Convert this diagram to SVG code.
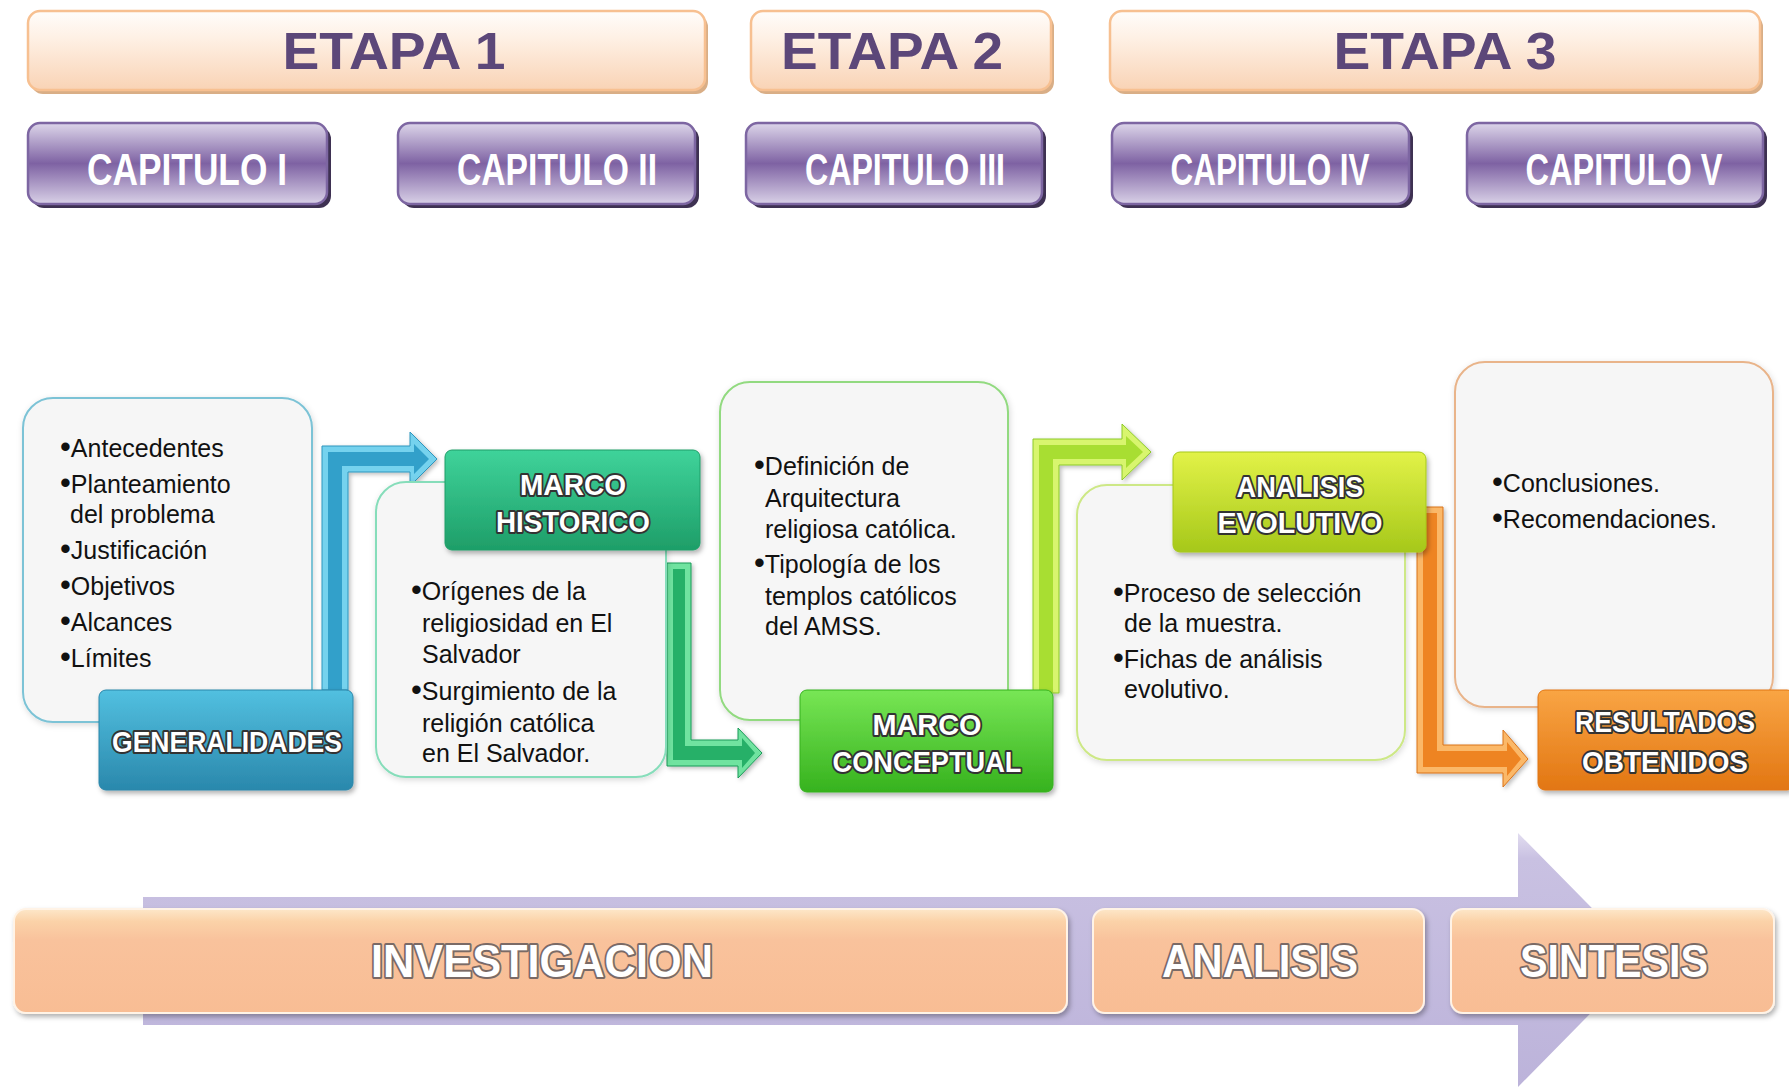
<svg xmlns="http://www.w3.org/2000/svg" width="1789" height="1087" viewBox="0 0 1789 1087">
<defs>
<linearGradient id="gEtapa" x1="0" y1="0" x2="0" y2="1"><stop offset="0" stop-color="#FFFDFB"/><stop offset="0.35" stop-color="#FEF0E4"/><stop offset="1" stop-color="#F9D3B5"/></linearGradient>
<linearGradient id="gCap" x1="0" y1="0" x2="0" y2="1"><stop offset="0" stop-color="#DDD6EA"/><stop offset="0.5" stop-color="#7E62A3"/><stop offset="1" stop-color="#D9D1E7"/></linearGradient>
<linearGradient id="gBand" x1="0" y1="0" x2="0" y2="1"><stop offset="0" stop-color="#FDE7C9"/><stop offset="0.12" stop-color="#FBD2A8"/><stop offset="0.3" stop-color="#F9C29C"/><stop offset="1" stop-color="#F8BD94"/></linearGradient>
<linearGradient id="gLav" x1="0" y1="0" x2="0" y2="1"><stop offset="0" stop-color="#E2DDF0"/><stop offset="0.1" stop-color="#C9C1E2"/><stop offset="1" stop-color="#BCB3DA"/></linearGradient>
<linearGradient id="gBlue" x1="0" y1="0" x2="0" y2="1"><stop offset="0" stop-color="#52C0E0"/><stop offset="1" stop-color="#2A88AC"/></linearGradient>
<linearGradient id="gTeal" x1="0" y1="0" x2="0" y2="1"><stop offset="0" stop-color="#3FD39A"/><stop offset="1" stop-color="#1E9E68"/></linearGradient>
<linearGradient id="gGreen" x1="0" y1="0" x2="0" y2="1"><stop offset="0" stop-color="#78E655"/><stop offset="1" stop-color="#36B21E"/></linearGradient>
<linearGradient id="gLime" x1="0" y1="0" x2="0" y2="1"><stop offset="0" stop-color="#E2F248"/><stop offset="1" stop-color="#A6C81A"/></linearGradient>
<linearGradient id="gOrange" x1="0" y1="0" x2="0" y2="1"><stop offset="0" stop-color="#F9A544"/><stop offset="1" stop-color="#E27612"/></linearGradient>
<filter id="sh" x="-10%" y="-10%" width="125%" height="130%"><feDropShadow dx="2" dy="3" stdDeviation="2.5" flood-color="#000" flood-opacity="0.3"/></filter>
<filter id="shSoft" x="-10%" y="-10%" width="125%" height="125%"><feDropShadow dx="1" dy="2" stdDeviation="3" flood-color="#000" flood-opacity="0.15"/></filter>
<filter id="shArr" x="-10%" y="-10%" width="130%" height="130%"><feDropShadow dx="2" dy="2" stdDeviation="2" flood-color="#000" flood-opacity="0.25"/></filter>
</defs>
<style>
.etapa{fill:url(#gEtapa);stroke:#F7C091;stroke-width:2.5}
.etapaSh{fill:#D9AE86}
.etT{font-family:"Liberation Sans",Arial,sans-serif;font-weight:bold;font-size:52px;fill:#5C4779;text-anchor:middle}
.cap{fill:url(#gCap);stroke:#7D66A2;stroke-width:2.5}
.capSh{fill:#3E3152}
.capT{font-family:"Liberation Sans",Arial,sans-serif;font-weight:bold;font-size:44px;fill:#FFFFFF;text-anchor:middle}
.box{fill:#F6F6F6;stroke-width:2;filter:url(#shSoft)}
.bt{font-family:"Liberation Sans",Arial,sans-serif;font-size:25px;fill:#111}
.b{font-size:31px}
.lab{stroke-width:1;filter:url(#sh)}
.labT{font-family:"Liberation Sans",Arial,sans-serif;font-weight:bold;font-size:30px;fill:#FFFFFF;text-anchor:middle;stroke:#333333;stroke-width:4;stroke-linejoin:round;paint-order:stroke}
.band{fill:url(#gBand);stroke:#FFF3E6;stroke-width:2;filter:url(#sh)}
.bandT{font-family:"Liberation Sans",Arial,sans-serif;font-weight:bold;font-size:47px;fill:#FFFFFF;text-anchor:middle;stroke:#7A6A66;stroke-width:4;stroke-linejoin:round;paint-order:stroke}
.arr{filter:url(#shArr)}
</style>

<g id="etapa1"><rect class="etapaSh" x="31" y="15" width="677" height="79" rx="12"/><rect class="etapa" x="28" y="11" width="677" height="79" rx="12"/><text class="etT" x="394" y="69" textLength="223" lengthAdjust="spacingAndGlyphs">ETAPA 1</text></g>
<g id="etapa2"><rect class="etapaSh" x="754" y="15" width="300" height="79" rx="12"/><rect class="etapa" x="751" y="11" width="300" height="79" rx="12"/><text class="etT" x="892" y="69" textLength="222" lengthAdjust="spacingAndGlyphs">ETAPA 2</text></g>
<g id="etapa3"><rect class="etapaSh" x="1113" y="15" width="650" height="79" rx="12"/><rect class="etapa" x="1110" y="11" width="650" height="79" rx="12"/><text class="etT" x="1445" y="69" textLength="223" lengthAdjust="spacingAndGlyphs">ETAPA 3</text></g>

<g id="cap1"><rect class="capSh" x="32" y="127" width="299" height="81" rx="12"/><rect class="cap" x="28" y="123" width="299" height="81" rx="12"/><text class="capT" x="187" y="185" textLength="200" lengthAdjust="spacingAndGlyphs">CAPITULO I</text></g>
<g id="cap2"><rect class="capSh" x="402" y="127" width="297" height="81" rx="12"/><rect class="cap" x="398" y="123" width="297" height="81" rx="12"/><text class="capT" x="557" y="185" textLength="200" lengthAdjust="spacingAndGlyphs">CAPITULO II</text></g>
<g id="cap3"><rect class="capSh" x="750" y="127" width="296" height="81" rx="12"/><rect class="cap" x="746" y="123" width="296" height="81" rx="12"/><text class="capT" x="905" y="185" textLength="200" lengthAdjust="spacingAndGlyphs">CAPITULO III</text></g>
<g id="cap4"><rect class="capSh" x="1116" y="127" width="297" height="81" rx="12"/><rect class="cap" x="1112" y="123" width="297" height="81" rx="12"/><text class="capT" x="1270" y="185" textLength="199" lengthAdjust="spacingAndGlyphs">CAPITULO IV</text></g>
<g id="cap5"><rect class="capSh" x="1471" y="127" width="296" height="81" rx="12"/><rect class="cap" x="1467" y="123" width="296" height="81" rx="12"/><text class="capT" x="1624" y="185" textLength="197" lengthAdjust="spacingAndGlyphs">CAPITULO V</text></g>

<g id="connectors">
<g class="arr"><polygon points="322,690 322,446 410,446 410,432 437,459 410,486 410,472 348,472 348,690" fill="#74D2EE" stroke="#2E95BD" stroke-width="1"/>
<polygon points="328,690 328,452 414,452 414,444 429,459 414,474 414,466 342,466 342,690" fill="#33A0CA"/></g>
<g class="arr"><polygon points="667,563 691,563 691,740 738,740 738,728 762,753 738,778 738,766 667,766" fill="#6FE3A0" stroke="#1B9A58" stroke-width="1"/>
<polygon points="673,569 685,569 685,746 742,746 742,738 755,753 742,768 742,760 673,760" fill="#25B068"/></g>
<g class="arr"><polygon points="1033,693 1033,439 1122,439 1122,424 1151,452 1122,480 1122,465 1059,465 1059,693" fill="#D8F56E" stroke="#8CC928" stroke-width="1"/>
<polygon points="1039,693 1039,445 1126,445 1126,436 1143,452 1126,468 1126,459 1053,459 1053,693" fill="#A8DE33"/></g>
<g class="arr"><polygon points="1417,507 1443,507 1443,745 1503,745 1503,730 1528,759 1503,787 1503,773 1417,773" fill="#FBB868" stroke="#D9731A" stroke-width="1"/>
<polygon points="1423,513 1437,513 1437,751 1507,751 1507,742 1521,759 1507,776 1507,767 1423,767" fill="#EE8424"/></g>
</g>

<g id="box1"><rect class="box" x="23" y="398" width="289" height="324" rx="30" stroke="#7CC3D6"/>
<text class="bt" x="60" y="457"><tspan class="b">•</tspan>Antecedentes</text>
<text class="bt" x="60" y="493"><tspan class="b">•</tspan>Planteamiento</text>
<text class="bt" x="70" y="523">del problema</text>
<text class="bt" x="60" y="559"><tspan class="b">•</tspan>Justificación</text>
<text class="bt" x="60" y="595"><tspan class="b">•</tspan>Objetivos</text>
<text class="bt" x="60" y="631"><tspan class="b">•</tspan>Alcances</text>
<text class="bt" x="60" y="667"><tspan class="b">•</tspan>Límites</text></g>

<g id="box2"><rect class="box" x="376" y="482" width="290" height="295" rx="30" stroke="#86DDBA"/>
<text class="bt" x="411" y="600"><tspan class="b">•</tspan>Orígenes de la</text>
<text class="bt" x="422" y="632">religiosidad en El</text>
<text class="bt" x="422" y="663">Salvador</text>
<text class="bt" x="411" y="700"><tspan class="b">•</tspan>Surgimiento de la</text>
<text class="bt" x="422" y="732">religión católica</text>
<text class="bt" x="422" y="762">en El Salvador.</text></g>

<g id="box3"><rect class="box" x="720" y="382" width="288" height="338" rx="30" stroke="#92DA80"/>
<text class="bt" x="754" y="475"><tspan class="b">•</tspan>Definición de</text>
<text class="bt" x="765" y="507">Arquitectura</text>
<text class="bt" x="765" y="538">religiosa católica.</text>
<text class="bt" x="754" y="573"><tspan class="b">•</tspan>Tipología de los</text>
<text class="bt" x="765" y="605">templos católicos</text>
<text class="bt" x="765" y="635">del AMSS.</text></g>

<g id="box4"><rect class="box" x="1077" y="485" width="328" height="275" rx="30" stroke="#CDE886"/>
<text class="bt" x="1113" y="602"><tspan class="b">•</tspan>Proceso de selección</text>
<text class="bt" x="1124" y="632">de la muestra.</text>
<text class="bt" x="1113" y="668"><tspan class="b">•</tspan>Fichas de análisis</text>
<text class="bt" x="1124" y="698">evolutivo.</text></g>

<g id="box5"><rect class="box" x="1455" y="362" width="318" height="345" rx="30" stroke="#E9B48A"/>
<text class="bt" x="1492" y="492"><tspan class="b">•</tspan>Conclusiones.</text>
<text class="bt" x="1492" y="528"><tspan class="b">•</tspan>Recomendaciones.</text></g>

<g id="generalidades"><rect class="lab" x="99" y="690" width="254" height="100" rx="7" fill="url(#gBlue)" stroke="#2A86AA"/><text class="labT" x="227" y="752" textLength="230" lengthAdjust="spacingAndGlyphs">GENERALIDADES</text></g>
<g id="marcoHistorico"><rect class="lab" x="445" y="450" width="255" height="100" rx="7" fill="url(#gTeal)" stroke="#1E9E68"/><text class="labT" x="573" y="495" textLength="106" lengthAdjust="spacingAndGlyphs">MARCO</text><text class="labT" x="573" y="532" textLength="154" lengthAdjust="spacingAndGlyphs">HISTORICO</text></g>
<g id="marcoConceptual"><rect class="lab" x="800" y="690" width="253" height="102" rx="7" fill="url(#gGreen)" stroke="#36B21E"/><text class="labT" x="927" y="735" textLength="109" lengthAdjust="spacingAndGlyphs">MARCO</text><text class="labT" x="927" y="772" textLength="189" lengthAdjust="spacingAndGlyphs">CONCEPTUAL</text></g>
<g id="analisisEvolutivo"><rect class="lab" x="1173" y="452" width="253" height="100" rx="7" fill="url(#gLime)" stroke="#A6C81A"/><text class="labT" x="1300" y="497" textLength="127" lengthAdjust="spacingAndGlyphs">ANALISIS</text><text class="labT" x="1300" y="533" textLength="165" lengthAdjust="spacingAndGlyphs">EVOLUTIVO</text></g>
<g id="resultadosObtenidos"><rect class="lab" x="1538" y="690" width="256" height="100" rx="7" fill="url(#gOrange)" stroke="#E27612"/><text class="labT" x="1665" y="732" textLength="180" lengthAdjust="spacingAndGlyphs">RESULTADOS</text><text class="labT" x="1665" y="772" textLength="166" lengthAdjust="spacingAndGlyphs">OBTENIDOS</text></g>

<g id="timelineArrow"><polygon points="143,897 1518,897 1518,833 1643,960 1518,1087 1518,1025 143,1025" fill="url(#gLav)"/></g>
<g id="investigacion"><rect class="band" x="14" y="909" width="1053" height="104" rx="12"/><text class="bandT" x="542" y="977" textLength="342" lengthAdjust="spacingAndGlyphs">INVESTIGACION</text></g>
<g id="analisis"><rect class="band" x="1093" y="909" width="331" height="104" rx="12"/><text class="bandT" x="1260" y="977" textLength="196" lengthAdjust="spacingAndGlyphs">ANALISIS</text></g>
<g id="sintesis"><rect class="band" x="1451" y="909" width="323" height="104" rx="12"/><text class="bandT" x="1614" y="977" textLength="188" lengthAdjust="spacingAndGlyphs">SINTESIS</text></g>
</svg>
